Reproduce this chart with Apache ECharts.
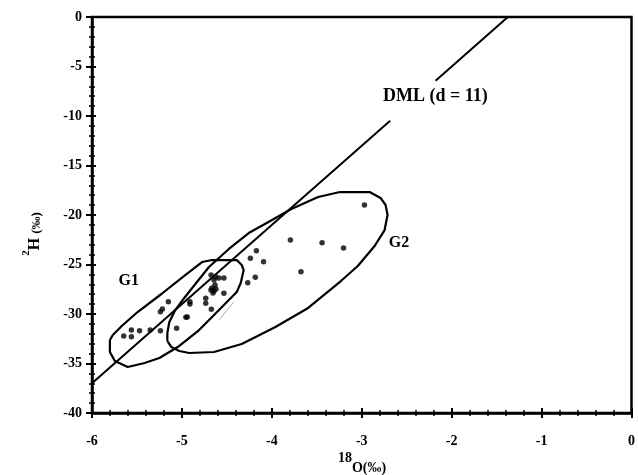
<!DOCTYPE html>
<html><head><meta charset="utf-8">
<script src="https://cdn.jsdelivr.net/npm/echarts@6/dist/echarts.min.js"></script>
<style>html,body{margin:0;padding:0;background:#fff}#c{width:638px;height:475px}</style>
</head><body><div id="c"></div>
<script>
// sample points (δ18O, δ2H)
const pointsX = [-5.647,-5.562,-5.471,-5.562,-5.353,-5.239,-5.151,-5.239,-5.217,-5.059,-4.956,-4.941,-4.911,-4.911,-4.735,-4.735,-4.673,
  -4.625,-4.588,-4.643,-4.533,-4.676,-4.666,-4.643,-4.621,-4.655,-4.677,-4.632,-4.533,-4.268,-4.184,-4.239,-4.172,-4.092,
  -2.970,-3.794,-3.441,-3.202,-3.676];
const pointsY = [-32.22,-31.62,-31.69,-32.29,-31.62,-31.69,-28.76,-29.77,-29.49,-31.44,-30.33,-30.30,-28.76,-28.99,-28.41,-28.92,-29.53,
  -26.23,-26.36,-26.57,-26.36,-26.06,-27.37,-27.68,-27.47,-27.88,-27.58,-27.07,-27.91,-26.84,-26.29,-24.37,-23.61,-24.72,
  -18.99,-22.53,-22.80,-23.33,-25.73];
// group outlines
const g1X = [-5.801,-5.801,-5.746,-5.603,-5.415,-5.250,-5.029,-4.809,-4.665,-4.511,-4.390,-4.346,-4.313,-4.335,-4.390,-4.665,-4.776,-4.974,-5.228,-5.493,-5.669,-5.768,-5.801];
const g1Y = [-32.63,-33.84,-34.75,-35.35,-34.95,-34.44,-33.23,-31.62,-30.30,-28.89,-27.78,-26.87,-25.56,-25.05,-24.55,-24.55,-24.75,-26.16,-27.98,-29.80,-31.21,-32.12,-32.63];
const g2X = [-5.162,-5.118,-5.029,-4.919,-4.643,-4.335,-3.960,-3.596,-3.232,-3.044,-2.857,-2.746,-2.713,-2.735,-2.791,-2.912,-3.243,-3.485,-3.783,-4.037,-4.257,-4.478,-4.699,-4.842,-4.974,-5.074,-5.140,-5.162,-5.162];
const g2Y = [-32.73,-33.33,-33.74,-33.94,-33.84,-33.03,-31.31,-29.39,-26.67,-25.15,-23.13,-21.52,-20.00,-18.99,-18.28,-17.68,-17.68,-18.18,-19.39,-20.71,-21.82,-23.43,-25.25,-26.87,-28.38,-29.60,-30.81,-31.92,-32.73];
// DML line (d = 11), drawn in two pieces around its label
const dmlX1 = [-6, -2.684], dmlY1 = [-37, -10.47];
const dmlX2 = [-2.179, -1.375], dmlY2 = [-6.43, 0];
// faint grey stroke in the original
const greyX = [-4.588, -4.423], greyY = [-30.61, -28.79];
// text labels
const labelText = ['G1', 'G2', 'DML (d = 11)'];
const labelX = [-5.586, -2.581, -2.175];
const labelY = [-26.67, -22.83, -8.08];
const labelSize = [16, 16, 18];

const FF = "'Liberation Serif','Times New Roman',serif";
const zip = (a, b) => a.map((v, i) => [v, b[i]]);
const chart = echarts.init(document.getElementById('c'), null, {renderer: 'canvas'});

function axisX(inside) {
  return {
    type: 'value', min: -6, max: 0, interval: 1, position: 'bottom',
    axisLine: {show: !inside, onZero: false, lineStyle: {color: '#000', width: 2.5}},
    axisTick: {show: true, inside: inside, length: 5, lineStyle: {color: '#000', width: 2}},
    minorTick: {show: true, splitNumber: 5, length: 3, lineStyle: {color: '#000', width: 1.5}},
    axisLabel: {show: !inside, margin: 21, fontSize: 14, fontWeight: 'bold', fontFamily: FF, color: '#000'},
    splitLine: {show: false}, minorSplitLine: {show: false}
  };
}
function axisY(inside) {
  return {
    type: 'value', min: -40, max: 0, interval: 5, position: 'left',
    axisLine: {show: !inside, onZero: false, lineStyle: {color: '#000', width: 2.5}},
    axisTick: {show: true, inside: inside, length: inside ? 4 : 6, lineStyle: {color: '#000', width: 2}},
    minorTick: {show: true, splitNumber: 5, length: 3, lineStyle: {color: '#000', width: 1.5}},
    axisLabel: {show: !inside, margin: 10, fontSize: 14, fontWeight: 'bold', fontFamily: FF, color: '#000'},
    splitLine: {show: false}, minorSplitLine: {show: false}
  };
}
const lineS = (data, color, width) => ({
  type: 'line', data: data, symbol: 'none', smooth: false, silent: true, animation: false,
  lineStyle: {color: color, width: width}, xAxisIndex: 0, yAxisIndex: 0
});

chart.setOption({
  animation: false,
  grid: {left: 92, right: 2, top: 17, bottom: 62, show: true, borderColor: '#000', borderWidth: 2.5, backgroundColor: 'transparent'},
  xAxis: [axisX(false), axisX(true)],
  yAxis: [axisY(false), axisY(true)],
  series: [
    lineS(zip(g1X, g1Y), '#000', 2.2),
    lineS(zip(g2X, g2Y), '#000', 2.2),
    lineS(zip(dmlX1, dmlY1), '#000', 2),
    lineS(zip(dmlX2, dmlY2), '#000', 2),
    lineS(zip(greyX, greyY), '#aaa', 1),
    {type: 'scatter', data: zip(pointsX, pointsY), symbol: 'circle', symbolSize: 5.5,
      itemStyle: {color: '#000'}, xAxisIndex: 0, yAxisIndex: 0},
    {type: 'scatter', symbolSize: 1, silent: true, xAxisIndex: 0, yAxisIndex: 0,
      itemStyle: {color: 'rgba(0,0,0,0)'},
      data: labelText.map((t, i) => ({value: [labelX[i], labelY[i]], name: t,
        label: {show: true, position: [0, 0], align: 'center', verticalAlign: 'middle', formatter: t,
          color: '#000', textBorderWidth: 0, opacity: 1,
          fontFamily: FF, fontWeight: 'bold', fontSize: labelSize[i]}}))}
  ],
  graphic: [
    {type: 'text', x: 32, y: 234, rotation: Math.PI / 2, silent: true,
      style: {text: '{s|2}{h|H }{p|(‰)}', align: 'center', verticalAlign: 'middle', fill: '#000',
        rich: {
          s: {fontSize: 11, fontWeight: 'bold', fontFamily: FF, verticalAlign: 'top', lineHeight: 22, fill: '#000'},
          h: {fontSize: 16, fontWeight: 'bold', fontFamily: FF, verticalAlign: 'bottom', lineHeight: 22, fill: '#000'},
          p: {fontSize: 13, fontWeight: 'bold', fontFamily: FF, verticalAlign: 'bottom', lineHeight: 22, fill: '#000'}
        }}},
    {type: 'text', x: 362, y: 463, silent: true,
      style: {text: '{s|18}{o|O(‰)}', align: 'center', verticalAlign: 'middle', fill: '#000',
        rich: {
          s: {fontSize: 14, fontWeight: 'bold', fontFamily: FF, verticalAlign: 'top', lineHeight: 24, fill: '#000'},
          o: {fontSize: 14, fontWeight: 'bold', fontFamily: FF, verticalAlign: 'bottom', lineHeight: 24, fill: '#000'}
        }}}
  ]
});
</script></body></html>
